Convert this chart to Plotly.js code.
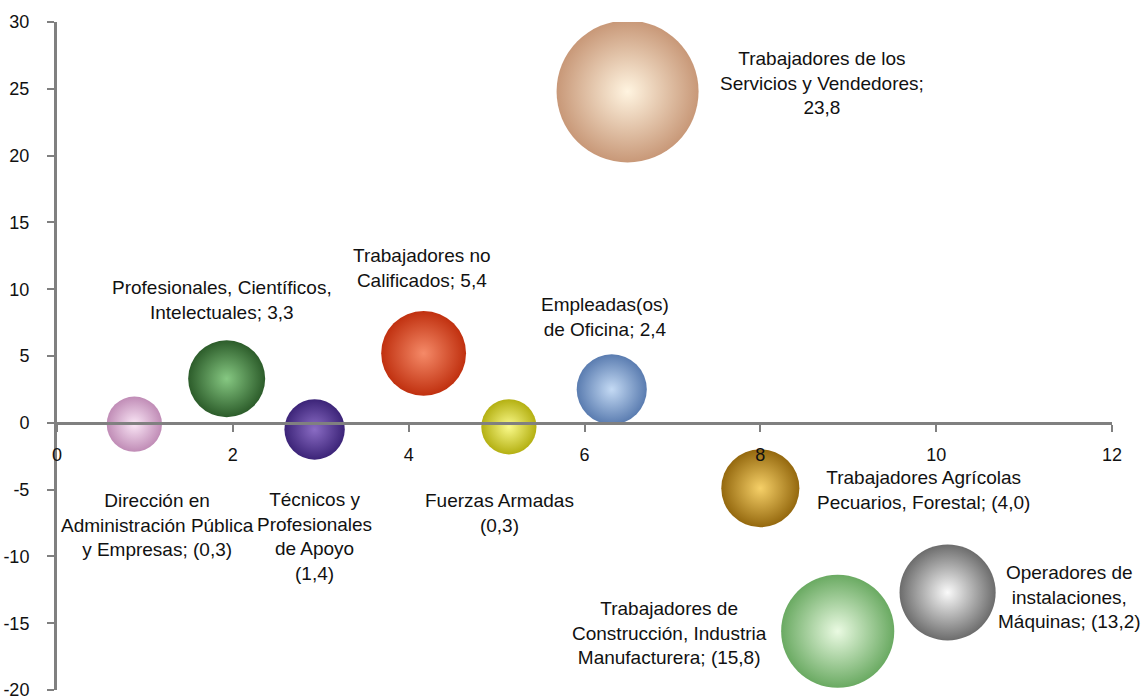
<!DOCTYPE html>
<html>
<head>
<meta charset="utf-8">
<script src="https://cdn.plot.ly/plotly-3.0.1.min.js"></script>
<style>
  body { margin: 0; background: #fff; }
  #grafico { width: 1147px; height: 699px; }
</style>
</head>
<body>
<div id="grafico"></div>
<script>
// Datos
let categorias = [
    "Dirección en<br>Administración Pública<br>y Empresas; (0,3)",
    "Profesionales, Científicos,<br>Intelectuales; 3,3",
    "Técnicos y<br>Profesionales<br>de Apoyo<br>(1,4)",
    "Trabajadores no<br>Calificados; 5,4",
    "Fuerzas Armadas<br>(0,3)",
    "Empleadas(os)<br>de Oficina; 2,4",
    "Trabajadores de los<br>Servicios y Vendedores;<br>23,8",
    "Trabajadores Agrícolas<br>Pecuarios, Forestal; (4,0)",
    "Operadores de<br>instalaciones,<br>Máquinas; (13,2)",
    "Trabajadores de<br>Construcción, Industria<br>Manufacturera; (15,8)"
];
let valoresX = [0.88, 1.93, 2.93, 4.17, 5.14, 6.31, 6.49, 8.0, 10.13, 8.88];
let valoresY = [-0.1, 3.3, -0.5, 5.2, -0.3, 2.5, 24.8, -4.9, -12.7, -15.6];
let tamanos = [3.6, 7.0, 4.3, 8.5, 3.6, 5.8, 23.8, 7.2, 10.9, 15.1];
let ticksX = [0, 2, 4, 6, 8, 10, 12];
let ticksY = [-20, -15, -10, -5, 0, 5, 10, 15, 20, 25, 30];

// Estilo de cada burbuja: color del borde y del centro
let colorBorde = ["#c08cb6", "#2c5c2a", "#3c2478", "#c0300f", "#b4b012", "#5a7cb0",
                  "#c89878", "#94680e", "#6c6c6c", "#6aaa62"];
let colorCentro = ["#fae6f6", "#86c882", "#8a6cc4", "#f58a68", "#fafa8a", "#c4daf4",
                   "#fff4e0", "#f6d068", "#fafafa", "#eafae2"];
// desplazamiento de cada etiqueta respecto a su burbuja (px)
let despX = [23, -5, 0, -2, -9, -7, 194, 163, 122, -168];
let despY = [-101, 79, -107, 85, -86, 72, 8, -2, -5, -2];

let fuente = { family: "Liberation Sans, Arial, sans-serif", size: 19, color: "#111" };
let fuenteTicks = { family: "Liberation Sans, Arial, sans-serif", size: 18, color: "#111" };

let burbujas = {
    x: valoresX,
    y: valoresY,
    mode: "markers",
    type: "scatter",
    hoverinfo: "text",
    text: categorias,
    marker: {
        size: tamanos,
        sizemode: "area",
        sizeref: 2 * 23.8 / (142 * 142),
        color: colorBorde,
        opacity: 1,
        line: { width: 0 },
        gradient: { type: "radial", color: colorCentro }
    },
    showlegend: false
};

let etiquetas = categorias.map(function (t, i) {
    return {
        x: valoresX[i],
        y: valoresY[i],
        xref: "x",
        yref: "y",
        text: t,
        showarrow: false,
        xshift: despX[i],
        yshift: despY[i],
        align: "center",
        font: fuente
    };
});

let layout = {
    width: 1147,
    height: 699,
    margin: { l: 57, r: 35, t: 22, b: 9 },
    paper_bgcolor: "#fff",
    plot_bgcolor: "#fff",
    showlegend: false,
    xaxis: {
        range: [0, 12],
        tickvals: ticksX,
        ticktext: ticksX.map(String),
        showgrid: false,
        zeroline: false,
        showline: true,
        linecolor: "#808080",
        linewidth: 3,
        ticks: "outside",
        ticklen: 7,
        tickwidth: 2,
        tickcolor: "#808080",
        anchor: "free",
        position: 0.4,
        ticklabelstandoff: 8,
        tickfont: fuenteTicks
    },
    yaxis: {
        range: [-20, 30],
        tickvals: ticksY,
        ticktext: ticksY.map(String),
        showgrid: false,
        zeroline: false,
        showline: true,
        linecolor: "#808080",
        linewidth: 3,
        ticks: "outside",
        ticklen: 7,
        tickwidth: 2,
        tickcolor: "#808080",
        ticklabelstandoff: 14,
        ticklabeloverflow: "allow",
        tickfont: fuenteTicks
    },
    annotations: etiquetas
};

Plotly.newPlot("grafico", [burbujas], layout, { displayModeBar: false, staticPlot: true });
</script>
</body>
</html>
